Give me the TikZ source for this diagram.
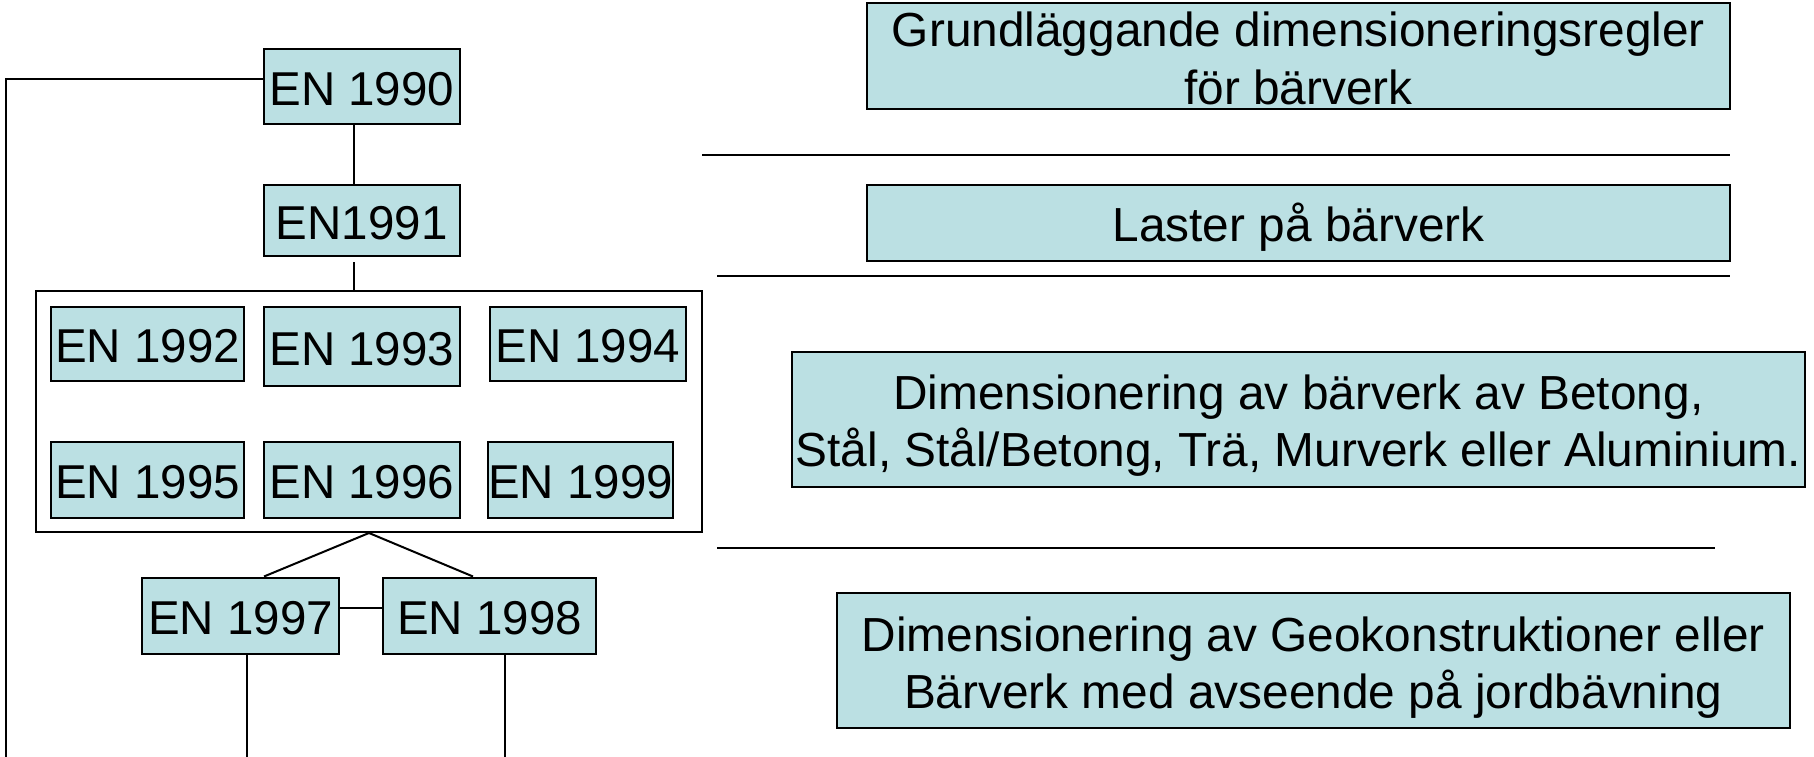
\documentclass[tikz,border=0pt]{standalone}
\usepackage{fontspec}
\setmainfont{Liberation Sans}
\definecolor{boxfill}{HTML}{BBE0E3}
\newcommand{\tstr}[1]{\rule{0pt}{#1}}
\newcommand{\bstr}[1]{\rule[-#1]{0pt}{0pt}}
\begin{document}
\begin{tikzpicture}[x=1pt,y=-1pt]
\useasboundingbox (0,0) rectangle (1814,757);
\tikzset{
  enbox/.style={draw=black, line width=2pt, fill=boxfill, inner sep=0pt,
    font=\fontsize{47.5}{57.5}\selectfont, align=center},
  txtbox/.style={enbox, font=\fontsize{47.8}{57.5}\selectfont},
  grpbox/.style={draw=black, line width=2pt, inner sep=0pt},
  conn/.style={draw=black, line width=2pt},
  sepline/.style={draw=black, line width=2pt},
}
% left tree
\node[enbox, minimum width=196.5, minimum height=75] (n90) at (361.75,87) {\tstr{50pt}EN 1990\bstr{12pt}};
\node[enbox, minimum width=196.5, minimum height=71] (n91) at (361.75,220.5) {\tstr{50pt}EN1991\bstr{12pt}};
\node[grpbox, minimum width=666, minimum height=241] (grp) at (369,411.5) {};
\node[enbox, minimum width=193, minimum height=74.5] (n92) at (147.5,343.75) {\tstr{50pt}EN 1992\bstr{12pt}};
\node[enbox, minimum width=195.5, minimum height=79.5] (n93) at (361.75,346.25) {\tstr{50pt}EN 1993\bstr{12pt}};
\node[enbox, minimum width=196.5, minimum height=74.5] (n94) at (587.75,343.75) {\tstr{50pt}EN 1994\bstr{12pt}};
\node[enbox, minimum width=193, minimum height=75.5] (n95) at (147.5,479.75) {\tstr{50pt}EN 1995\bstr{12pt}};
\node[enbox, minimum width=195.5, minimum height=75.5] (n96) at (361.75,479.75) {\tstr{50pt}EN 1996\bstr{12pt}};
\node[enbox, minimum width=183, minimum height=75.5] (n99) at (580.5,479.75) {\tstr{50pt}EN 1999\bstr{12pt}};
\node[enbox, minimum width=197, minimum height=76.5] (n97) at (240.5,615.75) {\tstr{50pt}EN 1997\bstr{12pt}};
\node[enbox, minimum width=213, minimum height=76.5] (n98) at (489.5,615.75) {\tstr{50pt}EN 1998\bstr{12pt}};
\coordinate (leftbot) at (5.5,757);
\coordinate (bot97) at (247,757);
\coordinate (bot98) at (505,757);
\draw[conn] ([yshift=8pt]n90.west) -| (leftbot);
\draw[conn] ([xshift=-8pt]n90.south) -- ([xshift=-8pt]n91.north);
\draw[conn] ([xshift=-8pt,yshift=-5pt]n91.south) -- ([xshift=-8pt]n91.south |- grp.north);
\draw[conn] (grp.south) -- ([xshift=23.5pt]n97.north);
\draw[conn] (grp.south) -- ([xshift=-16.5pt]n98.north);
\draw[conn] ([yshift=8pt]n97.east) -- ([yshift=8pt]n98.west);
\draw[conn] (n97.south -| bot97) -- (bot97);
\draw[conn] (n98.south -| bot98) -- (bot98);
% right side
\node[txtbox, minimum width=863, minimum height=106] (r1) at (1298.5,56.5)
  {\tstr{43pt}Grundläggande dimensioneringsregler\\för bärverk\bstr{4.6pt}};
\node[txtbox, minimum width=863, minimum height=76] (r2) at (1298.5,222.5)
  {\tstr{50pt}Laster på bärverk\bstr{12pt}};
\node[txtbox, minimum width=1013.5, minimum height=135] (r3) at (1298.25,419.2)
  {\tstr{50pt}Dimensionering av bärverk av Betong,\\Stål, Stål/Betong, Trä, Murverk eller Aluminium.\bstr{12pt}};
\node[txtbox, minimum width=953.5, minimum height=135] (r4) at (1313.25,660.8)
  {\tstr{50pt}Dimensionering av Geokonstruktioner eller\\Bärverk med avseende på jordbävning\bstr{12pt}};
\draw[sepline] (702,154.5) -- (1730,154.5);
\draw[sepline] (717,275.5) -- (1730,275.5);
\draw[sepline] (717,547.5) -- (1715,547.5);
\end{tikzpicture}
\end{document}
